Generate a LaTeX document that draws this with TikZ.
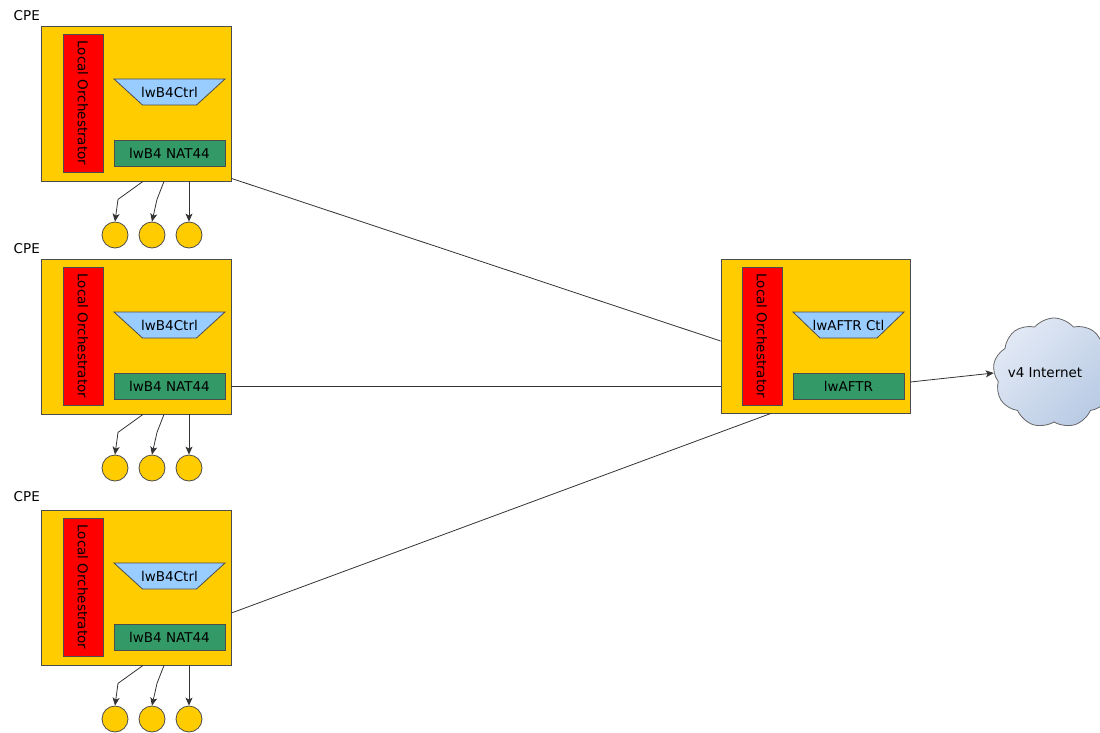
\documentclass[tikz,border=0pt]{standalone}
\usepackage{fontspec}
\setmainfont{DejaVu Sans}
\usetikzlibrary{shapes.symbols,arrows.meta}
\definecolor{cpeyellow}{RGB}{255,204,0}
\definecolor{orchred}{RGB}{255,0,0}
\definecolor{natgreen}{RGB}{51,153,102}
\definecolor{ctlblue}{RGB}{153,204,255}
\definecolor{cloudlight}{RGB}{226,233,245}
\definecolor{clouddark}{RGB}{184,202,228}
\tikzset{
  box/.style={draw=black!70, fill=cpeyellow, inner sep=0pt},
  orch/.style={draw=black!70, fill=orchred, minimum width=138pt, minimum height=40pt, inner sep=0pt, rotate=-90},
  ctl/.style={draw=black!70, fill=ctlblue},
  nat/.style={draw=black!70, fill=natgreen, minimum width=111pt, minimum height=26pt, inner sep=0pt},
  host/.style={circle, draw=black!70, fill=cpeyellow, minimum size=26pt, inner sep=0pt},
  arr/.style={draw=black!80, -{Stealth[length=8pt,width=7pt,inset=2pt]}},
  link/.style={draw=black!80},
}
\begin{document}
\begin{tikzpicture}[x=1pt, y=-1pt, line width=0.8pt, font=\fontsize{13.5}{16}\selectfont]
\useasboundingbox (0,0) rectangle (1100,733);

% CPE one
\node[anchor=west] (cpeAlabel) at (10,16) {CPE};
\node[box, minimum width=190pt, minimum height=155pt] (cpeA) at (136,103.5) {};
\node[orch] (orchA) at (83,103) {Local Orchestrator};
\coordinate (ctlA) at (169.5,92);
\path (ctlA) +(-55.5,-13) coordinate (ctlAtl)
    +(55.5,-13) coordinate (ctlAtr)
    +(27,13) coordinate (ctlAbr)
    +(-27,13) coordinate (ctlAbl)
    ;
\draw[ctl] (ctlAtl) -- (ctlAtr) -- (ctlAbr) -- (ctlAbl) -- cycle;
\node (ctlAtext) at (ctlA) {lwB4Ctrl};
\node[nat] (natA) at (169.5,153) {lwB4 NAT44};
\node[host] (hostA1) at (115,235) {};
\node[host] (hostA2) at (152,235) {};
\node[host] (hostA3) at (189,235) {};
\draw[arr] ([xshift=7pt]cpeA.south) -- ++(-25,18) -- (hostA1.north);
\draw[arr] ([xshift=28pt]cpeA.south) -- ++(-7,18) -- (hostA2.north);
\draw[arr] (hostA3.north |- cpeA.south) -- (hostA3.north);

% CPE two
\node[anchor=west] (cpeBlabel) at (10,249) {CPE};
\node[box, minimum width=190pt, minimum height=155pt] (cpeB) at (136,336.5) {};
\node[orch] (orchB) at (83,336) {Local Orchestrator};
\coordinate (ctlB) at (169.5,325);
\path (ctlB) +(-55.5,-13) coordinate (ctlBtl)
    +(55.5,-13) coordinate (ctlBtr)
    +(27,13) coordinate (ctlBbr)
    +(-27,13) coordinate (ctlBbl)
    ;
\draw[ctl] (ctlBtl) -- (ctlBtr) -- (ctlBbr) -- (ctlBbl) -- cycle;
\node (ctlBtext) at (ctlB) {lwB4Ctrl};
\node[nat] (natB) at (169.5,386) {lwB4 NAT44};
\node[host] (hostB1) at (115,468) {};
\node[host] (hostB2) at (152,468) {};
\node[host] (hostB3) at (189,468) {};
\draw[arr] ([xshift=7pt]cpeB.south) -- ++(-25,18) -- (hostB1.north);
\draw[arr] ([xshift=28pt]cpeB.south) -- ++(-7,18) -- (hostB2.north);
\draw[arr] (hostB3.north |- cpeB.south) -- (hostB3.north);

% CPE three
\node[anchor=west] (cpeClabel) at (10,497) {CPE};
\node[box, minimum width=190pt, minimum height=155pt] (cpeC) at (136,587.5) {};
\node[orch] (orchC) at (83,587) {Local Orchestrator};
\coordinate (ctlC) at (169.5,576);
\path (ctlC) +(-55.5,-13) coordinate (ctlCtl)
    +(55.5,-13) coordinate (ctlCtr)
    +(27,13) coordinate (ctlCbr)
    +(-27,13) coordinate (ctlCbl)
    ;
\draw[ctl] (ctlCtl) -- (ctlCtr) -- (ctlCbr) -- (ctlCbl) -- cycle;
\node (ctlCtext) at (ctlC) {lwB4Ctrl};
\node[nat] (natC) at (169.5,637) {lwB4 NAT44};
\node[host] (hostC1) at (115,719) {};
\node[host] (hostC2) at (152,719) {};
\node[host] (hostC3) at (189,719) {};
\draw[arr] ([xshift=7pt]cpeC.south) -- ++(-25,18) -- (hostC1.north);
\draw[arr] ([xshift=28pt]cpeC.south) -- ++(-7,18) -- (hostC2.north);
\draw[arr] (hostC3.north |- cpeC.south) -- (hostC3.north);

% lwAFTR
\node[box, minimum width=189pt, minimum height=154pt] (aftr) at (815.5,336) {};
\node[orch] (orchD) at (762,336) {Local Orchestrator};
\coordinate (ctlD) at (848.5,325);
\path (ctlD) +(-55.5,-13) coordinate (ctlDtl)
    +(55.5,-13) coordinate (ctlDtr)
    +(28.5,13) coordinate (ctlDbr)
    +(-28.5,13) coordinate (ctlDbl)
    ;
\draw[ctl] (ctlDtl) -- (ctlDtr) -- (ctlDbr) -- (ctlDbl) -- cycle;
\node (ctlDtext) at (ctlD) {lwAFTR Ctl};
\node[nat] (natD) at (848.5,386) {lwAFTR};

% Internet
\node[cloud, cloud puffs=9, cloud puff arc=100, aspect=1, minimum width=122pt, minimum height=110pt,
  inner sep=0pt, draw=black!60, top color=cloudlight, bottom color=clouddark, shading angle=45] (inet) at (1054,373) {};
\node (inettext) at (1045,373) {v4 Internet};

% links
\draw[link] ([yshift=3pt]cpeA.south east) -- ([yshift=-5pt]aftr.west);
\draw[link] (natB -| cpeB.east) -- (natB -| aftr.west);
\draw[link] ([yshift=-25.5pt]cpeC.east) -- ([xshift=-44.5pt]aftr.south);
\draw[arr] ([yshift=-46pt]aftr.east) -- (inet.west);
\end{tikzpicture}
\end{document}
